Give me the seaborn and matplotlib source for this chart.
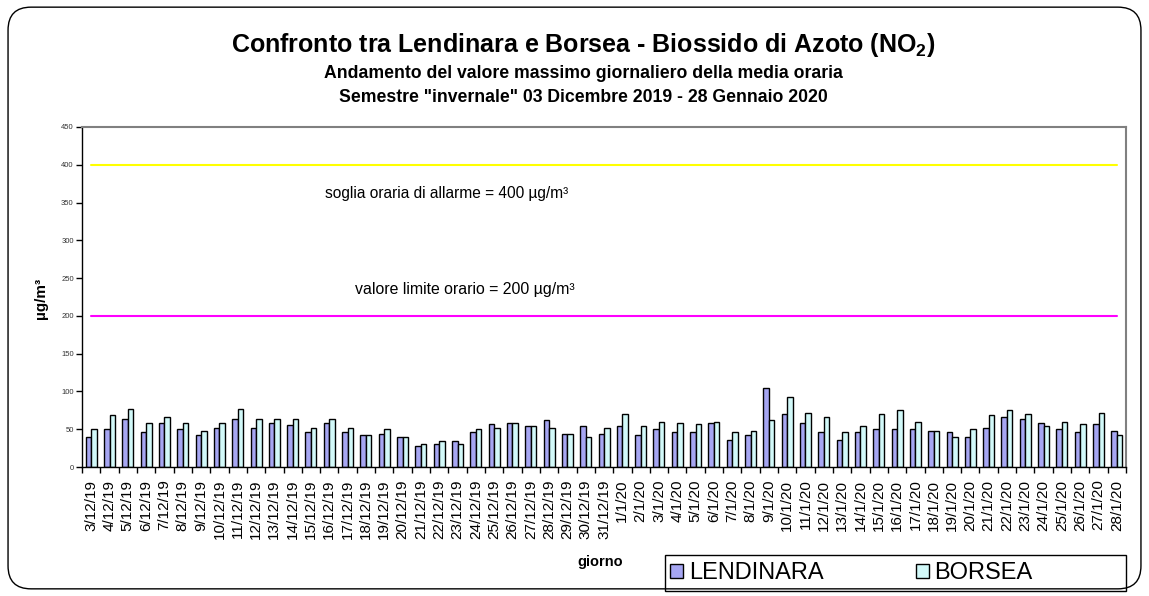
# grafico confronto NO2 Lendinara / Borsea
import numpy as np
import pandas as pd
from matplotlib import pyplot as plt
from matplotlib.patches import FancyBboxPatch, Rectangle
import seaborn as sns

sns.set_style("white")
plt.rcParams['font.family'] = ['Liberation Sans', 'DejaVu Sans']
plt.rcParams['mathtext.fontset'] = 'custom'
plt.rcParams['mathtext.rm'] = 'Liberation Sans'
plt.rcParams['mathtext.bf'] = 'Liberation Sans:bold'
plt.rcParams['text.color'] = 'black'
plt.rcParams['xtick.color'] = 'black'
plt.rcParams['ytick.color'] = 'black'

# dati
giorni = ['3/12/19', '4/12/19', '5/12/19', '6/12/19', '7/12/19', '8/12/19', '9/12/19',
          '10/12/19', '11/12/19', '12/12/19', '13/12/19', '14/12/19', '15/12/19', '16/12/19',
          '17/12/19', '18/12/19', '19/12/19', '20/12/19', '21/12/19', '22/12/19', '23/12/19',
          '24/12/19', '25/12/19', '26/12/19', '27/12/19', '28/12/19', '29/12/19', '30/12/19',
          '31/12/19', '1/1/20', '2/1/20', '3/1/20', '4/1/20', '5/1/20', '6/1/20', '7/1/20',
          '8/1/20', '9/1/20', '10/1/20', '11/1/20', '12/1/20', '13/1/20', '14/1/20', '15/1/20',
          '16/1/20', '17/1/20', '18/1/20', '19/1/20', '20/1/20', '21/1/20', '22/1/20',
          '23/1/20', '24/1/20', '25/1/20', '26/1/20', '27/1/20', '28/1/20']
lendinara = [40, 50, 63, 46, 58, 50, 42, 52, 64, 52, 58, 56, 46, 58,
             46, 42, 44, 40, 28, 30, 34, 46, 57, 58, 54, 62, 44, 54,
             44, 54, 42, 50, 46, 46, 58, 36, 42, 105, 70, 58, 46, 36,
             46, 50, 50, 50, 48, 46, 40, 52, 66, 64, 58, 50, 46, 57, 48]
borsea = [50, 69, 77, 58, 66, 58, 48, 58, 77, 63, 64, 63, 52, 64,
          52, 42, 50, 40, 30, 34, 30, 50, 52, 58, 54, 52, 44, 40,
          52, 70, 54, 60, 58, 57, 60, 46, 48, 62, 93, 72, 66, 46,
          54, 70, 76, 60, 48, 40, 50, 69, 75, 70, 54, 60, 57, 72, 42]
soglia_allarme = 400
valore_limite = 200

df = pd.DataFrame({'giorno': giorni * 2,
                   'valore': lendinara + borsea,
                   'stazione': ['LENDINARA'] * len(giorni) + ['BORSEA'] * len(giorni)})

fig = plt.figure(figsize=(11.49, 5.96), dpi=100)
ax = fig.add_axes([0.0714, 0.2164, 0.9086, 0.5706])

sns.barplot(data=df, x='giorno', y='valore', hue='stazione', order=giorni,
            hue_order=['LENDINARA', 'BORSEA'],
            palette={'LENDINARA': '#9999FF', 'BORSEA': '#CCFFFF'},
            width=0.6, edgecolor='black', linewidth=1, ax=ax)

n = len(giorni)
ax.plot([0, n - 1], [soglia_allarme] * 2, color='#FFFF00', lw=1.5, zorder=1)
ax.plot([0, n - 1], [valore_limite] * 2, color='#FF00FF', lw=1.5, zorder=1)
ax.text(0.233, 362, 'soglia oraria di allarme = 400 µg/m³', transform=ax.get_yaxis_transform(),
        fontsize=11.2, va='center', ha='left')
ax.text(0.261, 235, 'valore limite orario = 200 µg/m³', transform=ax.get_yaxis_transform(),
        fontsize=11.4, va='center', ha='left')

ax.set_xlim(-0.5, n - 0.5)
ax.set_ylim(0, 450)
ax.set_yticks(np.arange(0, 451, 50))
ax.tick_params(axis='y', labelsize=5.5, labelcolor='#333333', length=4, width=1,
               direction='out', left=True, pad=2)
ax.set_xticks(np.arange(n))
ax.set_xticklabels(giorni, rotation=90, fontsize=11)
ax.set_xticks(np.arange(-0.5, n, 1), minor=True)
ax.tick_params(axis='x', which='major', length=0, pad=9)
ax.tick_params(axis='x', which='minor', length=4, width=1, direction='out', bottom=True)

for s in ['left', 'bottom']:
    ax.spines[s].set_color('black')
    ax.spines[s].set_linewidth(1)
for s in ['top', 'right']:
    ax.spines[s].set_color('#808080')
    ax.spines[s].set_linewidth(1.5)

ax.set_xlabel('')
ax.set_ylabel('')
fig.text(0.036, 1 - 298 / 596, 'µg/m³', rotation=90, fontsize=11, fontweight='bold',
         ha='center', va='center')
fig.text(600 / 1149, 1 - 562 / 596, 'giorno', fontsize=10.5, fontweight='bold',
         ha='center', va='center')

fig.text(0.508, 1 - 45 / 596, r'Confronto tra Lendinara e Borsea - Biossido di Azoto (NO$_\mathbf{2}$)',
         fontsize=18, fontweight='bold', ha='center', va='center')
fig.text(0.508, 1 - 74 / 596, 'Andamento del valore massimo giornaliero della media oraria',
         fontsize=12.7, fontweight='bold', ha='center', va='center')
fig.text(0.508, 1 - 98 / 596, 'Semestre "invernale" 03 Dicembre 2019 - 28 Gennaio 2020',
         fontsize=12.7, fontweight='bold', ha='center', va='center')

# legenda senza cornice + cornice separata come nel foglio di calcolo
handles, labels = ax.get_legend_handles_labels()
ax.get_legend().remove()
leg = fig.legend(handles, labels, loc='center left',
                 bbox_to_anchor=(670 / 1149, 1 - 573 / 596),
                 ncol=2, frameon=False, fontsize=17,
                 handlelength=0.55, handleheight=0.55, handletextpad=0.25,
                 columnspacing=3.9, borderpad=0, borderaxespad=0)
for h in leg.legend_handles:
    h.set_edgecolor('black')
    h.set_linewidth(1)
fig.patches.append(Rectangle((665 / 1149, 1 - 591 / 596), 461 / 1149, 36 / 596,
                             transform=fig.transFigure, fill=False,
                             edgecolor='black', linewidth=1))

border = FancyBboxPatch((0.007, 0.012), 0.986, 0.976,
                        boxstyle='round,pad=0,rounding_size=0.02',
                        transform=fig.transFigure, fill=False, edgecolor='black',
                        linewidth=1, mutation_aspect=1149 / 596)
fig.patches.append(border)

plt.savefig('out.png', dpi=100)
